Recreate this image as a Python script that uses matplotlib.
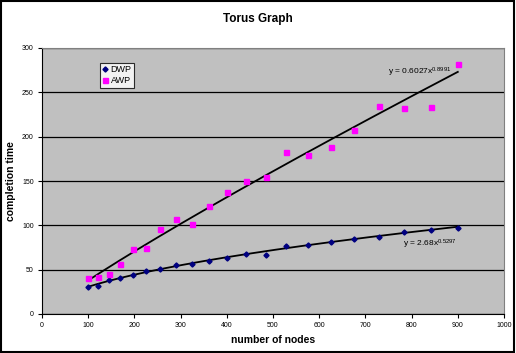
import matplotlib
matplotlib.use('Agg')
import matplotlib.pyplot as plt
import numpy as np
from matplotlib.patches import Rectangle

plt.rcParams['font.family'] = ['Liberation Sans', 'DejaVu Sans']
plt.rcParams['mathtext.fontset'] = 'custom'
plt.rcParams['mathtext.rm'] = 'Liberation Sans'
plt.rcParams['mathtext.it'] = 'Liberation Sans'

# nodes in the torus (10x10 ... 30x30)
nodes = [100, 121, 144, 169, 196, 225, 256, 289, 324, 361, 400,
         441, 484, 529, 576, 625, 676, 729, 784, 841, 900]
dwp = [30.4, 32, 38.3, 40.6, 43.6, 48.5, 50.4, 55.2, 56.4, 59.8, 63.5,
       67.3, 66.9, 76.7, 78.2, 81.2, 84.6, 86.8, 92, 94.7, 96.6]
awp = [41, 42, 45.5, 56, 73.6, 74.4, 95.8, 106.7, 101.8, 121.4, 137.5,
       150.3, 155, 182.6, 178.9, 188, 207, 235, 232, 233.7, 282]

# power trendlines as shown on the chart
dwp_fit = (2.68, 0.5297)
awp_fit = (0.6027, 0.8991)

fig = plt.figure(figsize=(5.16, 3.53), dpi=100)
ax = fig.add_axes([42/516, 39/353, 462/516, 266/353])
ax.set_facecolor('#c0c0c0')

xs = np.linspace(nodes[0], nodes[-1], 200)
ax.plot(xs, dwp_fit[0] * xs ** dwp_fit[1], color='black', lw=1.3, zorder=2)
ax.plot(xs, awp_fit[0] * xs ** awp_fit[1], color='black', lw=1.3, zorder=2)

ax.plot(nodes, dwp, linestyle='none', marker='D', ms=2.6, color='#000080',
        label='DWP', zorder=3)
ax.plot(nodes, awp, linestyle='none', marker='s', ms=3.6, color='#ff00ff',
        label='AWP', zorder=3)

ax.set_xlim(0, 1000)
ax.set_ylim(0, 300)
ax.set_xticks(range(0, 1001, 100))
ax.set_yticks(range(0, 301, 50))
ax.yaxis.grid(True, color='black', lw=0.9)
ax.set_axisbelow(True)
ax.tick_params(labelsize=5, length=3, width=0.8, colors='black', pad=3)
for side in ['top', 'right']:
    ax.spines[side].set_color('#808080')
for side in ['left', 'bottom']:
    ax.spines[side].set_color('black')

ax.text(818, 272, 'y = 0.6027x$^{0.8991}$', fontsize=6, ha='center', va='center')
ax.text(840, 79, 'y = 2.68x$^{0.5297}$', fontsize=6, ha='center', va='center')

ax.set_xlabel('number of nodes', fontsize=7.5, fontweight='bold', labelpad=4)
ax.set_ylabel('completion time', fontsize=7.5, fontweight='bold', labelpad=4)
fig.text(0.5, 1 - 19/353, 'Torus Graph', fontsize=8.5, fontweight='bold',
         ha='center', va='center')

leg = ax.legend(loc='upper left', bbox_to_anchor=(0.125, 0.945), fontsize=6.5,
                frameon=True, fancybox=False, handlelength=0.6,
                handletextpad=0.3, borderpad=0.3, labelspacing=0.2,
                borderaxespad=0)
leg.get_frame().set_edgecolor('black')
leg.get_frame().set_linewidth(0.8)

fig.patches.append(Rectangle((0.002, 0.004), 0.994, 0.992, transform=fig.transFigure,
                             fill=False, edgecolor='black', lw=1.5))

fig.savefig('out.png', dpi=100)
